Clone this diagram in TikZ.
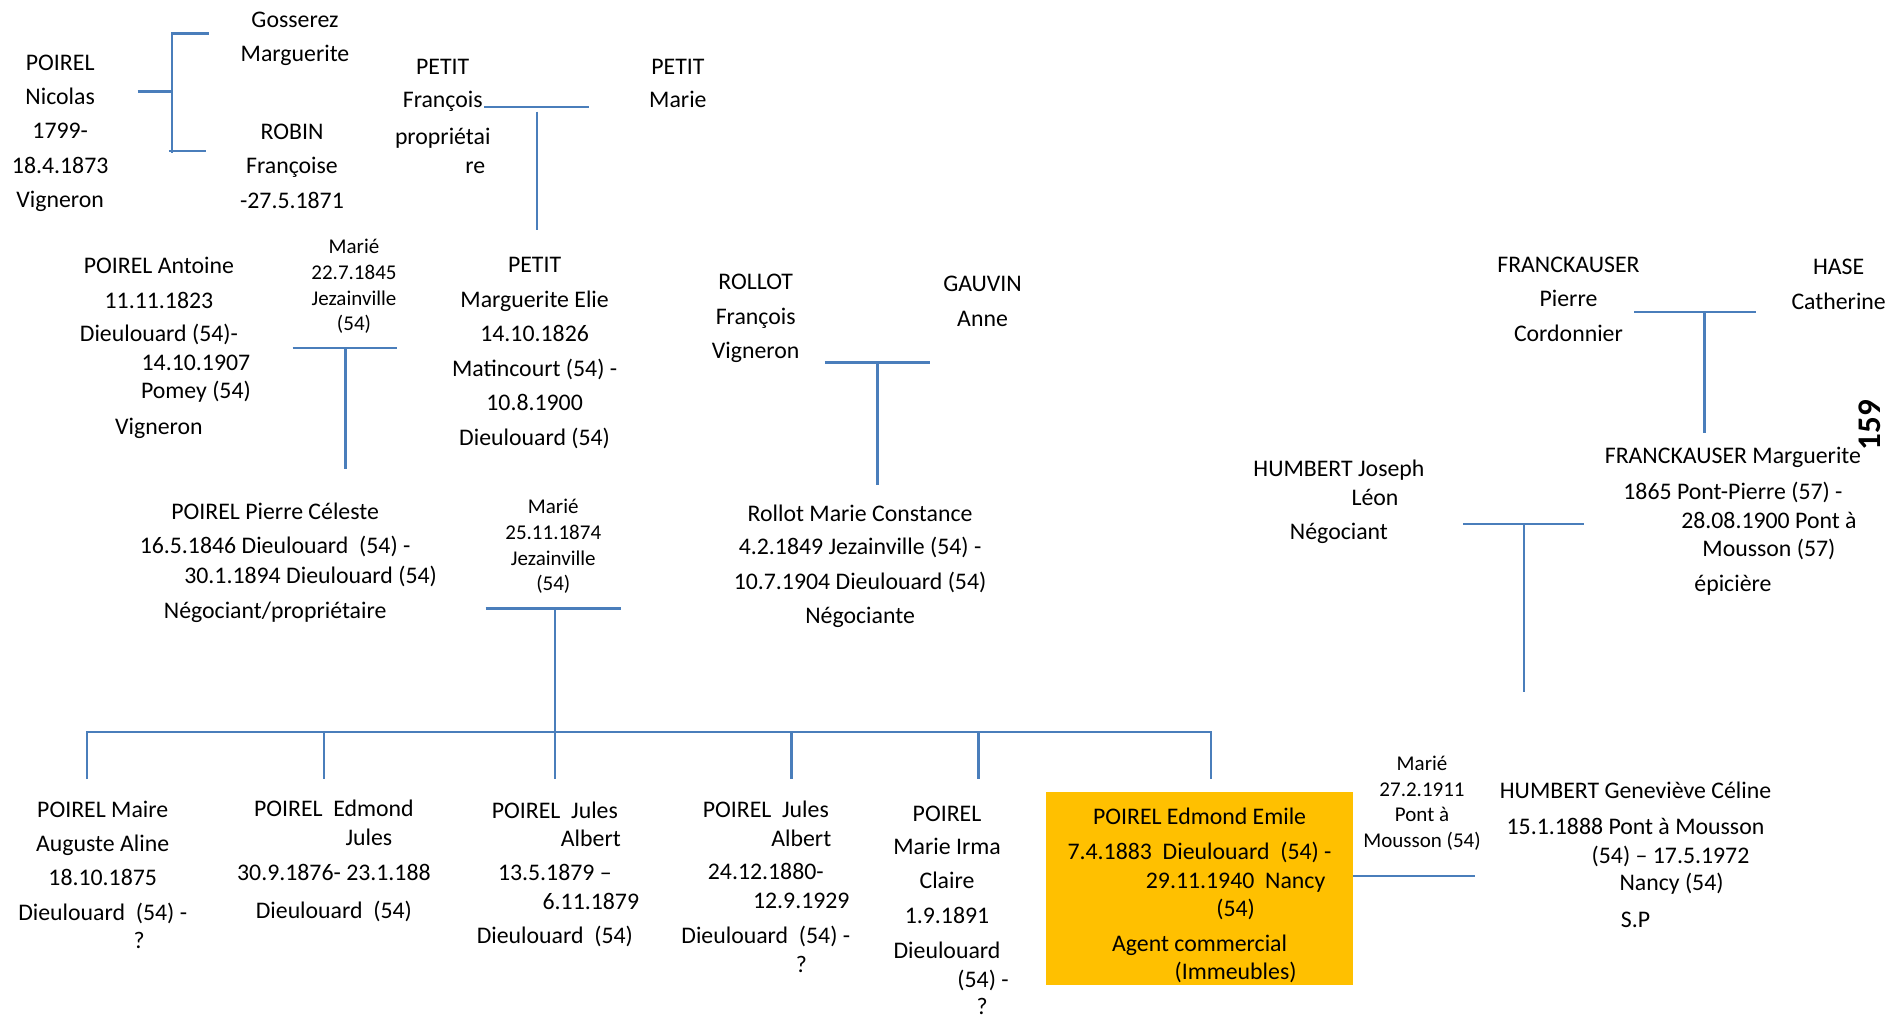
\documentclass[tikz,border=0pt]{standalone}
\usepackage{fontspec}
\setmainfont{Carlito}
\definecolor{linkblue}{HTML}{4A7EBB}
\definecolor{boxorange}{HTML}{FFC000}
\newcommand\bodysz{\fontsize{23.8pt}{29.5pt}\selectfont}
\newcommand\wedsz{\fontsize{21pt}{25.7pt}\selectfont}
\newcommand\pagesz{\fontsize{33pt}{36pt}\selectfont\bfseries}
\tikzset{
  person/.style={align=center, inner sep=0pt, font=\bodysz},
  wedding/.style={align=center, inner sep=0pt, font=\wedsz},
  link/.style={draw=linkblue, line width=2.3pt},
}
\begin{document}
\begin{tikzpicture}[x=1.20408pt, y=-1.20408pt]
\fill[white] (0,0) rectangle (1568,846);
\useasboundingbox (0,0) rectangle (1568,846);

% ---------- generation 1 ----------
\node[person] (nicolas) at (50,110.7) {POIREL\\[4.8pt]Nicolas\\[4.8pt]1799-\\[4.8pt]18.4.1873\\[4.8pt]Vigneron};
\node[person] (gosserez) at (245,32.5) {Gosserez\\[4.8pt]Marguerite};
\node[person] (robin) at (242.5,138) {ROBIN\\[4.8pt]Françoise\\[4.8pt]-27.5.1871};
\node[person] (francois) at (367.7,96.5) {PETIT\\[3.7pt]François\\[7.2pt]propriétai\\[-0.5pt]\hspace*{65pt}re};
\node[person] (petitmarie) at (563,69.2) {PETIT\\[3.7pt]Marie};

% ---------- generation 2 ----------
\node[person] (antoine) at (132,288.9) {POIREL Antoine\\[5.5pt]11.11.1823\\[3.8pt]Dieulouard (54)-\\[-0.5pt]\hspace*{74pt}14.10.1907\\[-1.2pt]\hspace*{74pt}Pomey (54)\\[6.2pt]Vigneron};
\node[wedding] (wed1845) at (294,238) {Marié\\22.7.1845\\Jezainville\\(54)};
\node[person] (elie) at (444,293.2) {PETIT\\[5pt]Marguerite Elie\\[5pt]14.10.1826\\[5pt]Matincourt (54) -\\[5pt]10.8.1900\\[5pt]Dieulouard (54)};
\node[person] (rollot) at (627.6,264.1) {ROLLOT\\[5.5pt]François\\[4.8pt]Vigneron};
\node[person] (gauvin) at (816,249.9) {GAUVIN\\[5.5pt]Anne};

% ---------- generation 3 ----------
\node[person] (celeste) at (228.5,467.5) {POIREL Pierre Céleste\\[4.5pt]16.5.1846 Dieulouard\ \ (54) -\\[0.6pt]\hspace*{71pt}30.1.1894 Dieulouard (54)\\[5pt]Négociant/propriétaire};
\node[wedding] (wed1874) at (459.5,454) {Marié\\25.11.1874\\Jezainville\\(54)};
\node[person] (constance) at (714.3,470) {Rollot Marie Constance\\[3.9pt]4.2.1849 Jezainville (54) -\\[5.5pt]10.7.1904 Dieulouard (54)\\[3.9pt]Négociante};

% ---------- children ----------
\node[person] (maire) at (85.3,726.5) {POIREL Maire\\[4.5pt]Auguste Aline\\[4.5pt]18.10.1875\\[5.5pt]Dieulouard\ \ (54) -\\[-1.8pt]\hspace*{73pt}?};
\node[person] (edmondjules) at (277.3,715) {POIREL\ \ Edmond\\[-0.6pt]\hspace*{70pt}Jules\\[4.8pt]30.9.1876- 23.1.188\\[8.4pt]Dieulouard\ \ (54)};
\node[person] (julesalbert) at (460.8,726) {POIREL\ \ Jules\\[-1.2pt]\hspace*{72pt}Albert\\[4.8pt]13.5.1879 –\\[-0.6pt]\hspace*{72pt}6.11.1879\\[4.2pt]Dieulouard\ \ (54)};
\node[person] (julesalbertb) at (636,736.5) {POIREL\ \ Jules\\[-0.6pt]\hspace*{71pt}Albert\\[4.2pt]24.12.1880-\\[-0.6pt]\hspace*{71pt}12.9.1929\\[5.4pt]Dieulouard\ \ (54) -\\[-0.6pt]\hspace*{71pt}?};
\node[person] (irma) at (786.5,756) {POIREL\\[4.2pt]Marie Irma\\[4.2pt]Claire\\[5.4pt]1.9.1891\\[5.4pt]Dieulouard\\[-0.6pt]\hspace*{72pt}(54) -\\[-1.8pt]\hspace*{70pt}?};
\node[person, fill=boxorange, minimum width=306.4pt, minimum height=192.65pt] (edmond) at (996.25,738) {\rule{0pt}{30pt}POIREL Edmond Emile\\[5.9pt]7.4.1883\ \ Dieulouard\ \ (54) -\\[-1.1pt]\hspace*{72pt}29.11.1940\ \ Nancy\\[-1.3pt]\hspace*{72pt}(54)\\[5.5pt]Agent commercial\\[-1.2pt]\hspace*{72pt}(Immeubles)};
\node[wedding] (wed1911) at (1181,667) {Marié\\27.2.1911\\Pont à\\Mousson (54)};
\node[person] (genevieve) at (1358.3,710) {HUMBERT Geneviève Céline\\[5.8pt]15.1.1888 Pont à Mousson\\[-0.5pt]\hspace*{70pt}(54) – 17.5.1972\\[-1.8pt]\hspace*{72pt}Nancy (54)\\[6.9pt]S.P};

% ---------- right side ----------
\node[person] (joseph) at (1112,417) {HUMBERT Joseph\\[-0.8pt]\hspace*{72pt}Léon\\[4.6pt]Négociant};
\node[person] (pierre) at (1302.6,248.7) {FRANCKAUSER\\[4.7pt]Pierre\\[5.4pt]Cordonnier};
\node[person] (hase) at (1527,236) {HASE\\[5.5pt]Catherine};
\node[person] (marguerite) at (1439.2,433) {FRANCKAUSER Marguerite\\[6.1pt]1865 Pont-Pierre (57) -\\[-0.5pt]\hspace*{72pt}28.08.1900 Pont à\\[-1.1pt]\hspace*{72pt}Mousson (57)\\[4.8pt]épicière};
\node[font=\pagesz, rotate=90, inner sep=0pt] (pagenum) at (1553,353) {159};

% ---------- connectors ----------
% Nicolas bracket
\coordinate (nbMid) at (114.3,76.1);
\coordinate (nbJoin) at (143,76.1);
\coordinate (nbTopR) at (173.3,27.7);
\coordinate (nbTop) at (143,27.7);
\coordinate (nbBotEnd) at (143,127.4);
\coordinate (nbBotL) at (140.2,125.4);
\coordinate (nbBotR) at (171.4,125.4);
\draw[link] (nbMid) -- (nbJoin);
\draw[link] (nbTopR) -- (nbTop) -- (nbBotEnd);
\draw[link] (nbBotL) -- (nbBotR);

% PETIT couple
\coordinate (pfL) at (402,88.6);
\coordinate (pfR) at (489.5,88.6);
\coordinate (pfV1) at (445.7,92.8);
\coordinate (pfV2) at (445.7,191);
\draw[link] (pfL) -- (pfR);
\draw[link] (pfV1) -- (pfV2);

% Antoine couple
\coordinate (aL) at (243,289.3);
\coordinate (aR) at (330,289.3);
\coordinate (aV1) at (287,289.3);
\coordinate (aV2) at (287,389.8);
\draw[link] (aL) -- (aR);
\draw[link] (aV1) -- (aV2);

% Rollot couple
\coordinate (rL) at (685,301);
\coordinate (rR) at (772.4,301);
\coordinate (rV1) at (728.7,301);
\coordinate (rV2) at (728.7,402.8);
\draw[link] (rL) -- (rR);
\draw[link] (rV1) -- (rV2);

% Celeste couple and children bar
\coordinate (cL) at (403.4,505.3);
\coordinate (cR) at (515.4,505.3);
\coordinate (cV1) at (461,505.3);
\coordinate (cV2) at (461,607.7);
\draw[link] (cL) -- (cR);
\draw[link] (cV1) -- (cV2);
\coordinate (dAtop) at (72,607.7);
\coordinate (dAbot) at (72,647);
\coordinate (dFtop) at (1005.5,607.7);
\coordinate (dFbot) at (1005.5,647);
\draw[link] (dAbot) -- (dAtop) -- (dFtop) -- (dFbot);
\coordinate (dBtop) at (269,607.7);
\coordinate (dBbot) at (269,647);
\coordinate (dCtop) at (461,607.7);
\coordinate (dCbot) at (461,647);
\coordinate (dDtop) at (657.3,607.7);
\coordinate (dDbot) at (657.3,647);
\coordinate (dEtop) at (812.7,607.7);
\coordinate (dEbot) at (812.7,647);
\draw[link] (dBtop) -- (dBbot);
\draw[link] (dCtop) -- (dCbot);
\draw[link] (dDtop) -- (dDbot);
\draw[link] (dEtop) -- (dEbot);

% Edmond - Genevieve
\coordinate (eR) at (1224.7,727.3);
\draw[link] (edmond.east |- eR) -- (eR);

% Humbert couple
\coordinate (jL) at (1215.2,435.2);
\coordinate (jR) at (1315.4,435.2);
\coordinate (jV1) at (1265.5,435.2);
\coordinate (jV2) at (1265.5,575);
\draw[link] (jL) -- (jR);
\draw[link] (jV1) -- (jV2);

% Franckauser couple
\coordinate (fL) at (1357.2,258.9);
\coordinate (fR) at (1458.5,258.9);
\coordinate (fV1) at (1415.5,259.7);
\coordinate (fV2) at (1415.5,359.4);
\draw[link] (fL) -- (fR);
\draw[link] (fV1) -- (fV2);
\end{tikzpicture}
\end{document}
